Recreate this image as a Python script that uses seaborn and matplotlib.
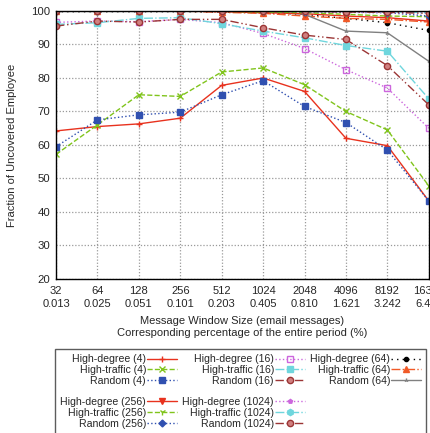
import matplotlib
matplotlib.use("Agg")
import matplotlib.pyplot as plt
from matplotlib.lines import Line2D
import seaborn as sns
import pandas as pd

sns.set_style("white")
plt.rcParams["font.family"] = ["Liberation Sans", "DejaVu Sans"]

# Window sizes (email messages) and their share of the entire period (%)
window_sizes = [32, 64, 128, 256, 512, 1024, 2048, 4096, 8192, 16384]
period_pct = ["0.013", "0.025", "0.051", "0.101", "0.203", "0.405", "0.810", "1.621", "3.242", "6.484"]

# Fraction of uncovered employees per strategy (number of removed nodes)
hd_4 = [64.2, 65.5, 66.3, 68.0, 77.8, 80.0, 76.0, 62.0, 59.8, 43.3]
ht_4 = [57.2, 66.0, 75.0, 74.5, 81.8, 83.0, 78.0, 70.0, 64.5, 47.8]
rnd_4 = [59.5, 67.5, 69.0, 69.8, 75.0, 79.2, 71.5, 66.7, 58.5, 43.3]
hd_16 = [96.6, 97.0, 96.8, 97.5, 96.5, 93.3, 88.8, 82.5, 77.0, 65.0]
ht_16 = [96.0, 96.5, 97.8, 98.0, 96.2, 94.0, 92.0, 89.7, 88.0, 73.8]
rnd_16 = [95.5, 97.0, 96.7, 97.5, 97.5, 95.0, 92.8, 91.5, 83.7, 72.0]
hd_64 = [99.8, 99.8, 99.8, 99.8, 99.7, 99.5, 99.0, 97.8, 96.5, 94.2]
ht_64 = [100.0, 100.0, 100.0, 100.0, 99.6, 99.3, 98.5, 97.8, 97.5, 96.7]
rnd_64 = [100.0, 100.0, 100.0, 100.0, 100.0, 100.0, 99.0, 94.0, 93.5, 85.0]
hd_256 = [100.0, 100.0, 100.0, 100.0, 99.8, 99.5, 99.2, 98.5, 98.0, 97.0]
ht_256 = [100.0, 100.0, 100.0, 100.0, 99.9, 99.7, 99.5, 99.0, 98.5, 98.3]
rnd_256 = [100.0, 100.0, 100.0, 100.0, 100.0, 99.9, 99.8, 99.6, 99.5, 98.5]
hd_1024 = [100.0, 100.0, 100.0, 100.0, 100.0, 100.0, 99.9, 99.7, 99.5, 99.5]
ht_1024 = [100.0, 100.0, 100.0, 100.0, 100.0, 100.0, 100.0, 99.9, 99.8, 99.5]
rnd_1024 = [100.0, 100.0, 100.0, 100.0, 100.0, 100.0, 99.9, 99.7, 99.6, 99.3]

RED, GREEN, BLUE = "#e8321e", "#80c41c", "#3050b0"
VIOLET, CYAN, BROWN = "#cc66dd", "#6fd6dd", "#9b3535"
BLACK, ORANGE, GREY = "#000000", "#f05a28", "#808080"

dd = (0, (6, 2, 1, 2, 1, 2))
series = [
    ("High-degree (4)", hd_4, RED, "-", "+", {}),
    ("High-traffic (4)", ht_4, GREEN, "--", "x", {}),
    ("Random (4)", rnd_4, BLUE, ":", "s", {}),
    ("High-degree (16)", hd_16, VIOLET, ":", "s", {"markerfacecolor": "none"}),
    ("High-traffic (16)", ht_16, CYAN, "-.", "s", {}),
    ("Random (16)", rnd_16, BROWN, dd, "o", {"markerfacecolor": "#d08080"}),
    ("High-degree (64)", hd_64, BLACK, (0, (1, 3)), "o", {"markersize": 3}),
    ("High-traffic (64)", ht_64, ORANGE, "-.", "^", {}),
    ("Random (64)", rnd_64, GREY, "-", "2", {"markersize": 3}),
    ("High-degree (256)", hd_256, RED, "-", "v", {}),
    ("High-traffic (256)", ht_256, GREEN, "--", "1", {}),
    ("Random (256)", rnd_256, BLUE, ":", "D", {"markersize": 3.5}),
    ("High-degree (1024)", hd_1024, VIOLET, ":", "p", {"markersize": 3}),
    ("High-traffic (1024)", ht_1024, CYAN, "-.", "h", {}),
    ("Random (1024)", rnd_1024, BROWN, dd, "o", {"markerfacecolor": "#d08080"}),
]

fig = plt.figure(figsize=(4.31, 4.33), dpi=100)
ax = fig.add_axes([0.130, 0.3557, 0.8648, 0.6189])

handles = {}
for label, vals, color, ls, mk, extra in series:
    df = pd.DataFrame({"size": window_sizes, "frac": vals})
    kw = dict(markersize=4.5, markeredgewidth=1.0)
    kw.update(extra)
    sns.lineplot(data=df, x="size", y="frac", ax=ax, color=color, linestyle=ls,
                 linewidth=1.0, marker=mk, markeredgecolor=color, label=label,
                 legend=False, **kw)
    handles[label] = ax.get_lines()[-1]

ax.set_xscale("log", base=2)
ax.set_xlim(window_sizes[0], window_sizes[-1])
ax.set_ylim(20, 100)
ax.set_xticks(window_sizes)
ax.set_xticklabels([f"{s}\n{p}" for s, p in zip(window_sizes, period_pct)],
                   fontsize=8.0, linespacing=1.4)
ax.minorticks_off()
ax.set_yticks(range(20, 101, 10))
ax.tick_params(axis="y", labelsize=8.2, direction="in", length=3, pad=4)
ax.tick_params(axis="x", direction="in", length=3, pad=5)
ax.grid(True, color="#9a9a9a", linestyle=(0, (1, 1.5)), linewidth=0.9)
ax.set_axisbelow(True)
for sp in ax.spines.values():
    sp.set_color("black")
    sp.set_linewidth(1.0)

ax.set_xlabel("Message Window Size (email messages)\nCorresponding percentage of the entire period (%)",
              fontsize=8.0, labelpad=5, linespacing=1.25)
ax.set_ylabel("Fraction of Uncovered Employee", fontsize=8.0, labelpad=10)

blank = Line2D([], [], linestyle="none")
order = [
    "High-degree (4)", "High-traffic (4)", "Random (4)", None,
    "High-degree (256)", "High-traffic (256)", "Random (256)",
    "High-degree (16)", "High-traffic (16)", "Random (16)", None,
    "High-degree (1024)", "High-traffic (1024)", "Random (1024)",
    "High-degree (64)", "High-traffic (64)", "Random (64)", None, None, None, None,
]
leg_h = [handles[k] if k else blank for k in order]
leg_l = [k if k else "" for k in order]
leg = fig.legend(leg_h, leg_l, ncol=3, loc="upper left",
                 bbox_to_anchor=(55 / 431, 1 - 349 / 433), borderaxespad=0.0,
                 markerfirst=False, fontsize=7.6, handlelength=2.8,
                 handletextpad=0.1, columnspacing=0.55, labelspacing=0.08,
                 borderpad=0.5, frameon=True, fancybox=False, edgecolor="#333333")
leg.get_frame().set_linewidth(1.0)
for k, txt in zip(order, leg.get_texts()):
    if k is None:
        txt.set_fontsize(5.5)

fig.savefig("out.png", dpi=100)
